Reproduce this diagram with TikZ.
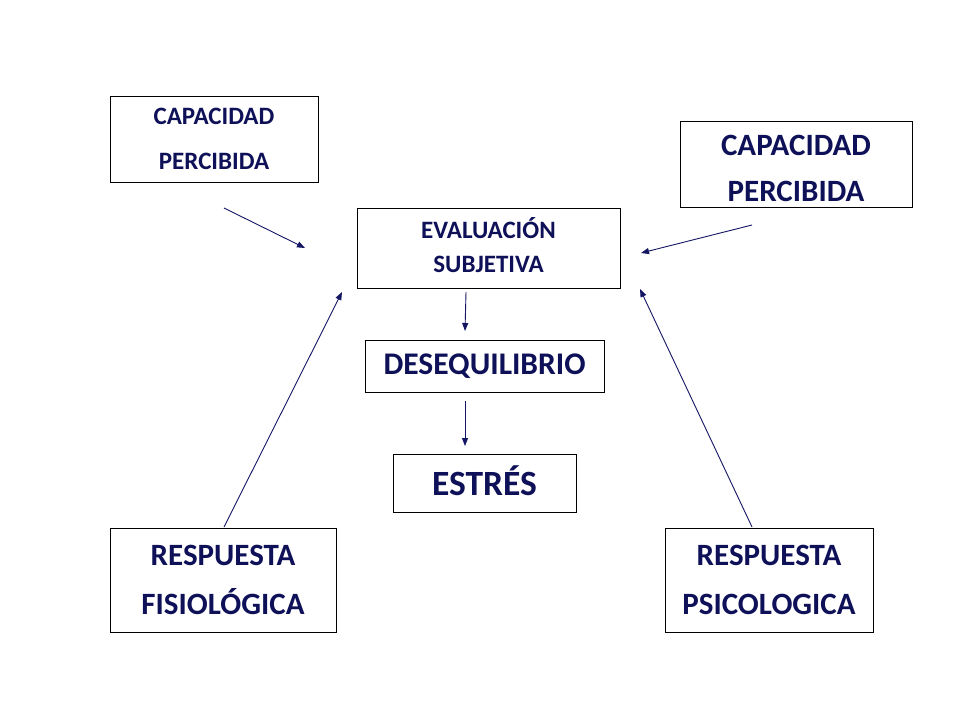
\documentclass[tikz,border=0pt]{standalone}
\usepackage{fontspec}
\setmainfont{Carlito}
\usetikzlibrary{arrows.meta}
\definecolor{navytext}{RGB}{14,16,88}
\definecolor{navyline}{RGB}{20,22,100}
\tikzset{
  box/.style={draw=black, line width=0.9pt, rectangle, inner sep=0pt, align=center,
    text=navytext},
  fs/.style n args={2}{font={\bfseries\fontsize{#1}{#2}\selectfont}},
  arr/.style={draw=navyline, line width=0.9pt, -{Triangle[length=8pt,width=6pt]}},
}
\begin{document}
\begin{tikzpicture}[x=1pt,y=-1pt]
\useasboundingbox (0,0) rectangle (960,720);
\fill[white] (0,0) rectangle (960,720);
% boxes
\node[box, fs={25}{45}, minimum width=208pt, minimum height=86pt] (cap1) at (214,139)
  {CAPACIDAD\\PERCIBIDA};
\node[box, fs={31}{46}, minimum width=232pt, minimum height=86pt] (cap2) at (796,164)
  {\rule{0pt}{30pt}CAPACIDAD\\PERCIBIDA};
\node[box, fs={25}{34}, minimum width=263pt, minimum height=80pt] (eval) at (488.5,248)
  {EVALUACIÓN\\SUBJETIVA\rule[-6pt]{0pt}{6pt}};
\node[box, fs={31.5}{36}, minimum width=239pt, minimum height=52pt] (deseq) at (484.5,366)
  {DESEQUILIBRIO};
\node[box, fs={35.5}{40}, minimum width=183pt, minimum height=58pt] (estres) at (484.5,483)
  {ESTRÉS\rule[-5pt]{0pt}{5pt}};
\node[box, fs={31}{49}, minimum width=226pt, minimum height=104pt] (fisio) at (223,580)
  {RESPUESTA\\FISIOLÓGICA};
\node[box, fs={31}{49}, minimum width=208pt, minimum height=104pt] (psico) at (769,580)
  {RESPUESTA\\PSICOLOGICA};
% arrow end points
\coordinate (a1s) at (224,208);  \coordinate (a1e) at (305,248);
\coordinate (a2s) at (752,225);  \coordinate (a2e) at (641,253);
\coordinate (a3s) at (466,292);  \coordinate (a3e) at (465,331);
\coordinate (a4s) at (465,401);  \coordinate (a4e) at (465,446);
\coordinate (a5s) at (224,527);  \coordinate (a5e) at (342,292);
\coordinate (a6s) at (752,527);  \coordinate (a6e) at (640,289);
\draw[arr] (a1s) -- (a1e);
\draw[arr] (a2s) -- (a2e);
\draw[arr] (a3s) -- (a3e);
\draw[arr] (a4s) -- (a4e);
\draw[arr] (a5s) -- (a5e);
\draw[arr] (a6s) -- (a6e);
\end{tikzpicture}
\end{document}
